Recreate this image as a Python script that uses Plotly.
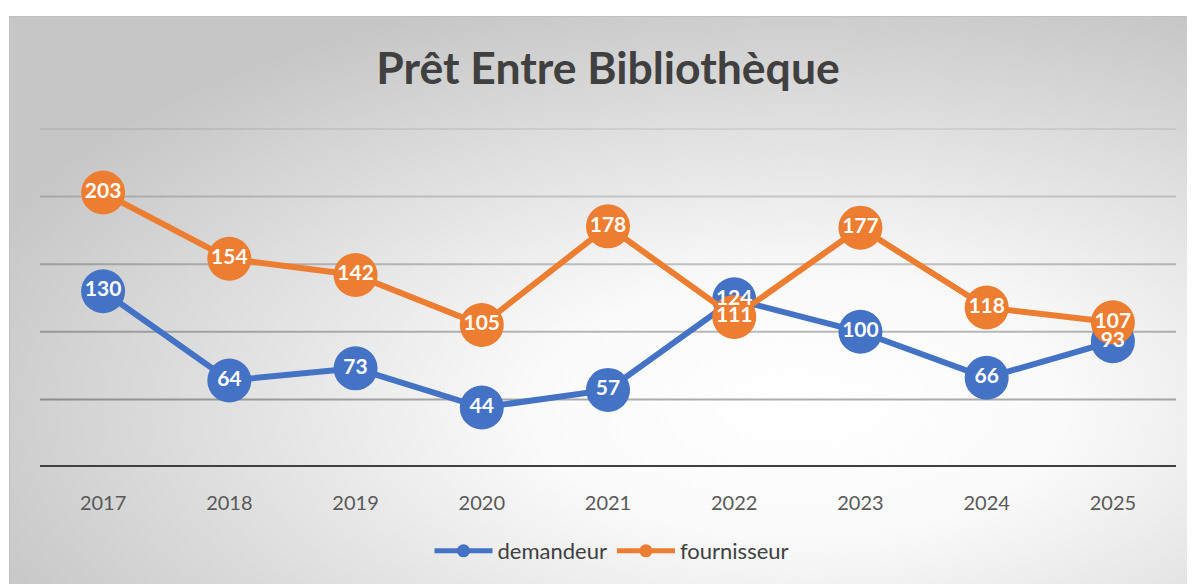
import plotly.graph_objects as go
import urllib.parse

years = ["2017", "2018", "2019", "2020", "2021", "2022", "2023", "2024", "2025"]
demandeur = [130, 64, 73, 44, 57, 124, 100, 66, 93]
fournisseur = [203, 154, 142, 105, 178, 111, 177, 118, 107]
grid_levels = [50, 100, 150, 200, 250]
grid_alpha = [0.32, 0.27, 0.22, 0.16, 0.07]

BLUE = "#4472C4"
ORANGE = "#ED7D31"
W, H = 1195, 584
OFF = 8  # page body margin
YTOP = 251
Y0PIX = 467
PXPERUNIT = (467 - 129) / 250


def px(v):
    return (v - OFF) / W


def py(v):
    return 1 - (v - OFF) / H


svg = (
    "<svg xmlns='http://www.w3.org/2000/svg' width='1186' height='568' viewBox='0 0 1186 568' preserveAspectRatio='none'>"
    "<defs><radialGradient id='g' cx='0.55' cy='0.56' r='0.62' gradientUnits='objectBoundingBox'>"
    "<stop offset='0' stop-color='#ffffff'/><stop offset='0.3' stop-color='#fafafa'/>"
    "<stop offset='1' stop-color='#c6c6c6'/></radialGradient></defs>"
    "<rect width='1186' height='568' fill='url(#g)'/></svg>"
)
src = "data:image/svg+xml;charset=utf-8," + urllib.parse.quote(svg)

FONT = "Lato"

fig = go.Figure()
common = dict(mode="lines+markers", cliponaxis=False, showlegend=False, hoverinfo="skip")
fig.add_trace(go.Scatter(x=years, y=demandeur, name="demandeur",
                         line=dict(color=BLUE, width=6), marker=dict(color=BLUE, size=44), **common))
fig.add_trace(go.Scatter(x=years, y=fournisseur, name="fournisseur",
                         line=dict(color=ORANGE, width=6), marker=dict(color=ORANGE, size=44), **common))
for vals in (demandeur, fournisseur):
    fig.add_trace(go.Scatter(x=years, y=vals, mode="text", text=[str(v) for v in vals],
                             textposition="middle center", cliponaxis=False, showlegend=False,
                             hoverinfo="skip",
                             textfont=dict(family=FONT, size=21, color="white", weight="bold")))
# legend entries
fig.add_trace(go.Scatter(x=[None], y=[None], mode="lines+markers", name="demandeur",
                         line=dict(color=BLUE, width=5), marker=dict(color=BLUE, size=13)))
fig.add_trace(go.Scatter(x=[None], y=[None], mode="lines+markers", name="fournisseur",
                         line=dict(color=ORANGE, width=5), marker=dict(color=ORANGE, size=13)))

shapes = [
    dict(type="line", xref="x domain", yref="y", x0=0, x1=1, y0=lvl, y1=lvl, layer="below",
         line=dict(color=f"rgba(0,0,0,{a})", width=2))
    for lvl, a in zip(grid_levels, grid_alpha)
]
shapes += [
    dict(type="line", xref="x domain", yref="y", x0=0, x1=1, y0=0, y1=0,
         line=dict(color="#404040", width=4)),
    dict(type="line", xref="paper", yref="paper", x0=px(9.5), x1=1, y0=py(16.5), y1=py(16.5),
         line=dict(color="#c0c0c0", width=1), layer="below"),
    dict(type="line", xref="paper", yref="paper", x0=px(9.5), x1=px(9.5), y0=0, y1=py(16.5),
         line=dict(color="#c0c0c0", width=1), layer="below"),
]

fig.update_layout(
    width=W, height=H,
    margin=dict(l=0, r=0, t=0, b=0),
    paper_bgcolor="white", plot_bgcolor="rgba(0,0,0,0)",
    title=dict(text="<b>Prêt Entre Bibliothèque</b>", x=px(608), xanchor="center",
               y=py(68), yanchor="middle",
               font=dict(family=FONT, size=44.5, color="#404040")),
    xaxis=dict(domain=[px(40), px(1176)], range=[-0.5, 8.5], type="category",
               showgrid=False, zeroline=False, showline=False, ticks="",
               tickfont=dict(family=FONT, size=20, color="#595959"),
               ticklabelstandoff=22),
    yaxis=dict(domain=[py(Y0PIX), py(Y0PIX - YTOP * PXPERUNIT)], range=[0, YTOP],
               showticklabels=False, showgrid=False, zeroline=False, showline=False),
    legend=dict(orientation="h", x=px(612), xanchor="center", y=py(551), yanchor="middle",
                bgcolor="rgba(0,0,0,0)",
                font=dict(family=FONT, size=22, color="#404040"),
                itemwidth=58, tracegroupgap=0),
    images=[dict(source=src, xref="paper", yref="paper", x=px(9), y=py(16),
                 sizex=1.2, sizey=1.2, xanchor="left", yanchor="top",
                 sizing="stretch", layer="below")],
    shapes=shapes,
)

fig.write_html("out.html")
